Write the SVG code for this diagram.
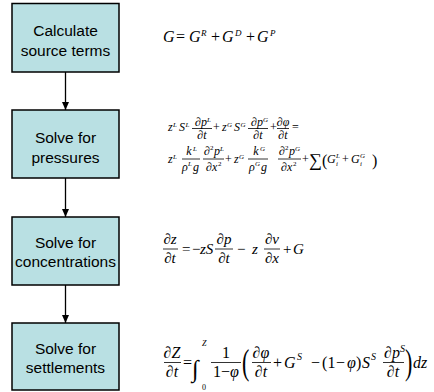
<svg xmlns="http://www.w3.org/2000/svg" width="434" height="392" viewBox="0 0 434 392">
<style>
.box{fill:#b9e0e3;stroke:#000;stroke-width:1.5}
.lbl{font-family:"Liberation Sans",Arial,sans-serif;font-size:15.5px;text-anchor:middle;fill:#000}
.m{font-family:"Liberation Serif","Times New Roman",serif;font-style:italic;fill:#000}
.u{font-style:normal}
.c{text-anchor:middle}
.bar{stroke:#000;stroke-width:0.8}
.con{stroke:#000;stroke-width:1.3;fill:none}
</style>
<defs>
<marker id="ah" markerUnits="userSpaceOnUse" markerWidth="10" markerHeight="10" refX="8" refY="3.5" orient="auto">
<path d="M0,0 L8,3.5 L0,7 Z" fill="#000"/>
</marker>
</defs>
<rect width="434" height="392" fill="#fff"/>
<g id="connectors">
<line class="con" x1="65.5" y1="72" x2="65.5" y2="110" marker-end="url(#ah)"/>
<line class="con" x1="65.5" y1="178" x2="65.5" y2="217" marker-end="url(#ah)"/>
<line class="con" x1="65.5" y1="285" x2="65.5" y2="323" marker-end="url(#ah)"/>
</g>
<g id="node1">
<rect class="box" x="12" y="3.5" width="107" height="68.5"/>
<text class="lbl" x="65.5" y="36">Calculate</text>
<text class="lbl" x="65.5" y="56">source terms</text>
</g>
<g id="node2">
<rect class="box" x="12" y="110" width="107" height="68"/>
<text class="lbl" x="65.5" y="143">Solve for</text>
<text class="lbl" x="65.5" y="163">pressures</text>
</g>
<g id="node3">
<rect class="box" x="12" y="217" width="107" height="68"/>
<text class="lbl" x="65.5" y="248">Solve for</text>
<text class="lbl" x="65.5" y="267">concentrations</text>
</g>
<g id="node4">
<rect class="box" x="12" y="323" width="107" height="67"/>
<text class="lbl" x="65.5" y="354">Solve for</text>
<text class="lbl" x="65.5" y="373">settlements</text>
</g>
<g id="eq1" class="m" font-size="16">
<text x="163" y="42">G</text>
<text x="176" y="42" class="u">=</text>
<text x="189" y="42">G</text><text x="201" y="36" font-size="9">R</text>
<text x="211" y="42" class="u">+</text>
<text x="222" y="42">G</text><text x="235" y="36" font-size="9">D</text>
<text x="246" y="42" class="u">+</text>
<text x="257" y="42">G</text><text x="270" y="36" font-size="9">P</text>
</g>
<g id="eq2" class="m" font-size="12">
<text x="168" y="131">z</text><text x="173" y="127" font-size="7">L</text>
<text x="179" y="131">S</text><text x="185.5" y="127" font-size="7">L</text>
<text class="c" x="201" y="125.5">∂p</text><text x="207" y="121.5" font-size="7">L</text>
<line class="bar" x1="192" y1="128.5" x2="212" y2="128.5"/>
<text class="c" x="202" y="139">∂t</text>
<text x="213" y="131" class="u">+</text>
<text x="222" y="131">z</text><text x="227" y="127" font-size="7">G</text>
<text x="234" y="131">S</text><text x="240.5" y="127" font-size="7">G</text>
<text class="c" x="257" y="125.5">∂p</text><text x="263" y="121.5" font-size="7">G</text>
<line class="bar" x1="248" y1="128.5" x2="268" y2="128.5"/>
<text class="c" x="258" y="139">∂t</text>
<text x="270" y="131" class="u">+</text>
<text class="c" x="283" y="125.5">∂φ</text>
<line class="bar" x1="277" y1="128.5" x2="289" y2="128.5"/>
<text class="c" x="283" y="139">∂t</text>
<text x="292" y="131" class="u">=</text>

<text x="168" y="163">z</text><text x="173" y="159" font-size="7">L</text>
<text class="c" x="189" y="155">k</text><text x="193" y="151" font-size="7">L</text>
<line class="bar" x1="182" y1="159" x2="200" y2="159"/>
<text x="182" y="170.5">ρ</text><text x="188" y="166" font-size="7">L</text><text x="193" y="170.5">g</text>
<text x="204" y="155">∂</text><text x="210" y="150" font-size="7" class="u">2</text><text x="214" y="155">p</text><text x="220" y="151" font-size="7">L</text>
<line class="bar" x1="203" y1="159" x2="224" y2="159"/>
<text x="206" y="170.5">∂x</text><text x="218" y="166" font-size="7" class="u">2</text>
<text x="225" y="163" class="u">+</text>
<text x="234" y="163">z</text><text x="239" y="159" font-size="7">G</text>
<text class="c" x="256" y="155">k</text><text x="260" y="151" font-size="7">G</text>
<line class="bar" x1="248" y1="159" x2="268" y2="159"/>
<text x="249" y="170.5">ρ</text><text x="255" y="166" font-size="7">G</text><text x="261" y="170.5">g</text>
<text x="279" y="155">∂</text><text x="285" y="150" font-size="7" class="u">2</text><text x="289" y="155">p</text><text x="295" y="151" font-size="7">G</text>
<line class="bar" x1="278" y1="159" x2="301" y2="159"/>
<text x="281" y="170.5">∂x</text><text x="293" y="166" font-size="7" class="u">2</text>
<text x="302" y="163" class="u">+</text>
<text x="309" y="166" class="u" font-size="18">∑</text>
<text x="322" y="166" class="u" font-size="16">(</text>
<text x="327" y="163">G</text><text x="336" y="158" font-size="7">L</text><text x="336" y="166" font-size="7">i</text>
<text x="342" y="163" class="u">+</text>
<text x="351" y="163">G</text><text x="360" y="158" font-size="7">G</text><text x="360" y="166" font-size="7">i</text>
<text x="372" y="166" class="u" font-size="16">)</text>
</g>
<g id="eq3" class="m" font-size="15">
<text class="c" x="170" y="244">∂z</text>
<line class="bar" x1="163" y1="249" x2="178" y2="249"/>
<text class="c" x="170" y="263">∂t</text>
<text x="182" y="253.5" class="u">=</text>
<text x="192" y="253.5" class="u">−</text>
<text x="200" y="253.5">zS</text>
<text class="c" x="224" y="244">∂p</text>
<line class="bar" x1="215" y1="249" x2="233" y2="249"/>
<text class="c" x="224" y="263">∂t</text>
<text x="237" y="253.5" class="u">−</text>
<text x="252" y="253.5">z</text>
<text class="c" x="272" y="244">∂v</text>
<line class="bar" x1="264" y1="249" x2="280" y2="249"/>
<text class="c" x="272" y="263">∂x</text>
<text x="283" y="253.5" class="u">+</text>
<text x="293" y="253.5">G</text>
</g>
<g id="eq4" class="m" font-size="16">
<text class="c" x="172" y="358">∂Z</text>
<line class="bar" x1="164" y1="362.5" x2="181" y2="362.5"/>
<text class="c" x="172" y="377">∂t</text>
<text x="183" y="367.5" class="u">=</text>
<text x="192" y="377" class="u" font-size="24">∫</text>
<text x="202" y="346" font-size="8">Z</text>
<text x="202" y="390" font-size="8" class="u">0</text>
<text class="c u" x="226" y="358">1</text>
<line class="bar" x1="211" y1="362.5" x2="241" y2="362.5"/>
<text class="c" x="226" y="377"><tspan class="u">1−</tspan>φ</text>
<text x="242" y="0" class="u" font-size="22" transform="translate(0,374) scale(1,1.6)">(</text>
<text class="c" x="261" y="358">∂φ</text>
<line class="bar" x1="252" y1="362.5" x2="271" y2="362.5"/>
<text class="c" x="261" y="377">∂t</text>
<text x="273" y="367.5" class="u">+</text>
<text x="284" y="367.5">G</text><text x="297" y="360" font-size="10">S</text>
<text x="311" y="367.5" class="u">−</text>
<text x="322" y="367.5" class="u">(</text>
<text x="327.5" y="367.5" class="u">1</text>
<text x="336" y="367.5" class="u">−</text>
<text x="347" y="367.5">φ</text>
<text x="356" y="367.5" class="u">)</text>
<text x="362" y="367.5">S</text><text x="371" y="360" font-size="10">S</text>
<text class="c" x="392" y="358">∂p</text><text x="400" y="352" font-size="10">S</text>
<line class="bar" x1="383" y1="362.5" x2="404" y2="362.5"/>
<text class="c" x="393" y="377">∂t</text>
<text x="405" y="0" class="u" font-size="22" transform="translate(0,374) scale(1,1.6)">)</text>
<text x="413" y="367.5">dz</text>
</g>
</svg>
